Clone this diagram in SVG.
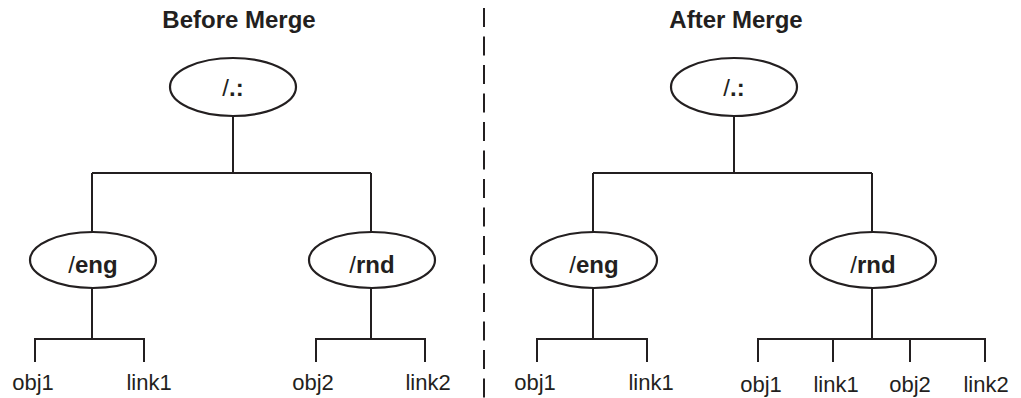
<svg xmlns="http://www.w3.org/2000/svg" width="1021" height="398" viewBox="0 0 1021 398">
<style>
.ln{stroke:#231f20;stroke-width:2;fill:none}
.el{stroke:#231f20;stroke-width:2.2;fill:#fff}
.t{font-family:"Liberation Sans",Arial,sans-serif;fill:#231f20;text-anchor:middle}
.lb{font-size:24px}
.b{font-weight:bold}
.leaf{font-size:22px}
.title{font-size:24px;font-weight:bold}
</style>
<rect width="1021" height="398" fill="#fff"/>
<text class="t title" x="239" y="28">Before Merge</text>
<text class="t title" x="736" y="28">After Merge</text>
<line class="ln" x1="484" y1="8" x2="484" y2="398" stroke-dasharray="19 9.5"/>
<g id="connectors">
<path class="ln" d="M233 117V173M92 173H371M92 173V232M371 173V232"/>
<path class="ln" d="M92 288V339M35 362V339H144V362"/>
<path class="ln" d="M371 288V339M316 362V339H425V362"/>
<path class="ln" d="M734 117V173M593 173H872M593 173V232M872 173V232"/>
<path class="ln" d="M593 288V339M537 362V339H647V362"/>
<path class="ln" d="M872 288V339M758 362V339H985V362M833 339V362M910 339V362"/>
</g>
<g id="root-before"><ellipse class="el" cx="233" cy="87" rx="63" ry="29"/><text class="t lb" x="233" y="96">/<tspan class="b">.:</tspan></text></g>
<g id="eng-before"><ellipse class="el" cx="93" cy="260" rx="63" ry="28"/><text class="t lb" x="93" y="273">/<tspan class="b">eng</tspan></text></g>
<g id="rnd-before"><ellipse class="el" cx="372" cy="260" rx="63" ry="28"/><text class="t lb" x="372" y="273">/<tspan class="b">rnd</tspan></text></g>
<g id="root-after"><ellipse class="el" cx="734" cy="87" rx="63" ry="29"/><text class="t lb" x="734" y="96">/<tspan class="b">.:</tspan></text></g>
<g id="eng-after"><ellipse class="el" cx="594" cy="260" rx="63" ry="28"/><text class="t lb" x="594" y="273">/<tspan class="b">eng</tspan></text></g>
<g id="rnd-after"><ellipse class="el" cx="873" cy="260" rx="63" ry="28"/><text class="t lb" x="873" y="273">/<tspan class="b">rnd</tspan></text></g>
<g id="leaves-before">
<text class="t leaf" x="33" y="390">obj1</text>
<text class="t leaf" x="149" y="390">link1</text>
<text class="t leaf" x="313" y="390">obj2</text>
<text class="t leaf" x="428" y="390">link2</text>
</g>
<g id="leaves-after">
<text class="t leaf" x="535" y="390">obj1</text>
<text class="t leaf" x="651" y="390">link1</text>
<text class="t leaf" x="761" y="392">obj1</text>
<text class="t leaf" x="836" y="392">link1</text>
<text class="t leaf" x="910" y="392">obj2</text>
<text class="t leaf" x="986" y="392">link2</text>
</g>
</svg>
